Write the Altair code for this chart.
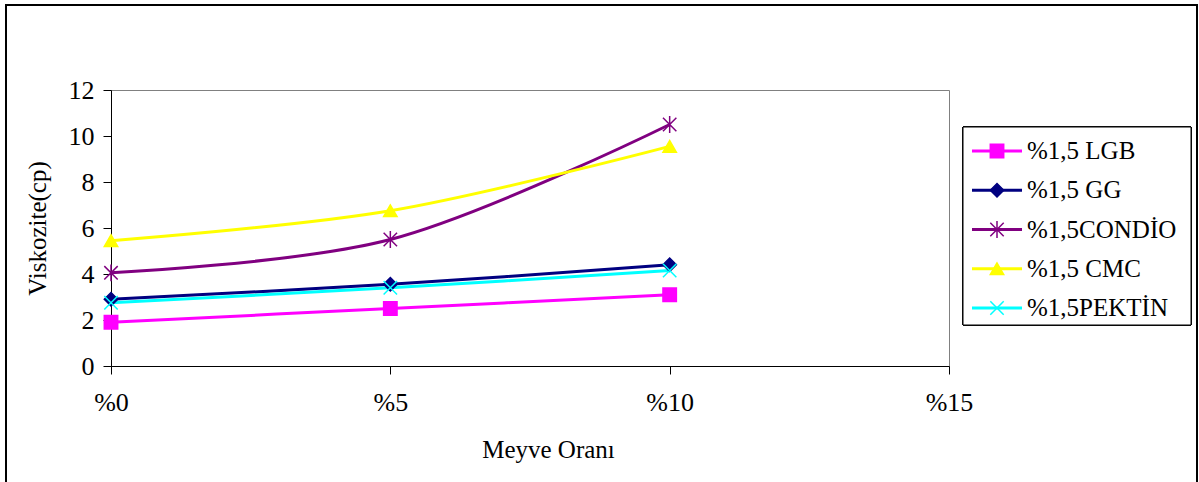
import altair as alt
import pandas as pd

# Meyve oranı (%) and viscosity readings for each stabiliser
oran = [0, 5, 10]
seriler = ["%1,5 LGB", "%1,5 GG", "%1,5CONDİO", "%1,5 CMC", "%1,5PEKTİN"]
lgb = [1.9, 2.5, 3.1]
gg = [2.9, 3.55, 4.4]
condio = [4.05, 5.5, 10.5]
cmc = [5.45, 6.75, 9.55]
pektin = [2.75, 3.4, 4.15]

renkler = ["#FF00FF", "#000080", "#800080", "#FFFF00", "#00FFFF"]
yildiz = "M-1,-1L1,1M-1,1L1,-1M0,-1.25L0,1.25"
carpi = "M-1,-1L1,1M-1,1L1,-1"
sekiller = ["square", "diamond", yildiz, "triangle-up", carpi]

degerler = [lgb, gg, condio, cmc, pektin]
rows = []
for i, (ad, vals) in enumerate(zip(seriler, degerler)):
    for o, v in zip(oran, vals):
        rows.append({"seri": ad, "sira": i, "oran": o, "viskozite": v})
df = pd.DataFrame(rows)
leg = pd.DataFrame({"seri": seriler, "sira": list(range(len(seriler)))})

FONT = "Liberation Serif"
W, H = 838, 276

renk_olcek = alt.Scale(domain=seriler, range=renkler)
sekil_olcek = alt.Scale(domain=seriler, range=sekiller)

x_enc = alt.X(
    "oran:Q",
    scale=alt.Scale(domain=[0, 15], nice=False),
    axis=alt.Axis(
        values=[0, 5, 10, 15],
        labelExpr="'%' + datum.value",
        labelFlush=False,
        title="Meyve Oranı",
        titleX=437,
        titlePadding=22,
        labelPadding=15,
    ),
)
y_scale = alt.Scale(domain=[0, 12], nice=False)

cizgiler = alt.Chart(df).mark_line(interpolate="catmull-rom", strokeWidth=3).encode(
    x=x_enc,
    y=alt.Y(
        "viskozite:Q",
        scale=y_scale,
        axis=alt.Axis(values=list(range(0, 13, 2)), title="Viskozite(cp)",
                      labelPadding=9, titlePadding=18),
    ),
    color=alt.Color("seri:N", scale=renk_olcek, legend=None),
    detail="seri:N",
    order=alt.Order("oran:Q"),
)

noktalar = alt.Chart(df).mark_point(filled=True, size=180, strokeWidth=1.5, opacity=1).encode(
    x=x_enc,
    y=alt.Y("viskozite:Q", scale=y_scale, axis=None),
    color=alt.Color("seri:N", scale=renk_olcek, legend=None),
    stroke=alt.Stroke("seri:N", scale=renk_olcek, legend=None),
    shape=alt.Shape("seri:N", scale=sekil_olcek, legend=None),
)

# outer chart frame
cerceve = alt.Chart(leg).mark_rect(fill=None, stroke="black", strokeWidth=1.5).encode(
    x=alt.value(-105), x2=alt.value(1086), y=alt.value(-85), y2=alt.value(420)
)

# legend box and entries
leg_y = alt.Y("sira:O", scale=alt.Scale(type="point", padding=0, range=[61, 218]), axis=None)
leg_kutu = alt.Chart(leg).mark_rect(fill="white", stroke="black", strokeWidth=1).encode(
    x=alt.value(852), x2=alt.value(1080), y=alt.value(37), y2=alt.value(235)
)
leg_cizgi = alt.Chart(leg).mark_rule(strokeWidth=3).encode(
    x=alt.value(861), x2=alt.value(911), y=leg_y,
    color=alt.Color("seri:N", scale=renk_olcek, legend=None),
)
leg_nokta = alt.Chart(leg).mark_point(filled=True, size=180, strokeWidth=1.5, opacity=1).encode(
    x=alt.value(886), y=leg_y,
    color=alt.Color("seri:N", scale=renk_olcek, legend=None),
    stroke=alt.Stroke("seri:N", scale=renk_olcek, legend=None),
    shape=alt.Shape("seri:N", scale=sekil_olcek, legend=None),
)
leg_yazi = alt.Chart(leg).mark_text(align="left", baseline="middle", font=FONT,
                                    fontSize=25, color="black").encode(
    x=alt.value(916), y=leg_y, text="seri:N"
)

chart = (
    alt.layer(cerceve, cizgiler, noktalar, leg_kutu, leg_cizgi, leg_nokta, leg_yazi)
    .resolve_scale(y="independent")
    .properties(
        width=W, height=H,
        autosize=alt.AutoSizeParams(type="none"),
        padding={"left": 111, "top": 90, "right": 250, "bottom": 116},
        background="white",
    )
    .configure_view(stroke="#808080", strokeWidth=1)
    .configure_axis(
        labelFont=FONT, titleFont=FONT, labelFontSize=26, titleFontSize=25,
        labelColor="black", titleColor="black", titleFontWeight="normal",
        domainColor="black", tickColor="black", tickSize=8, grid=False,
        domainWidth=1, tickWidth=1,
    )
)

chart.save("out.html", embed_options={"renderer": "svg", "actions": False})
